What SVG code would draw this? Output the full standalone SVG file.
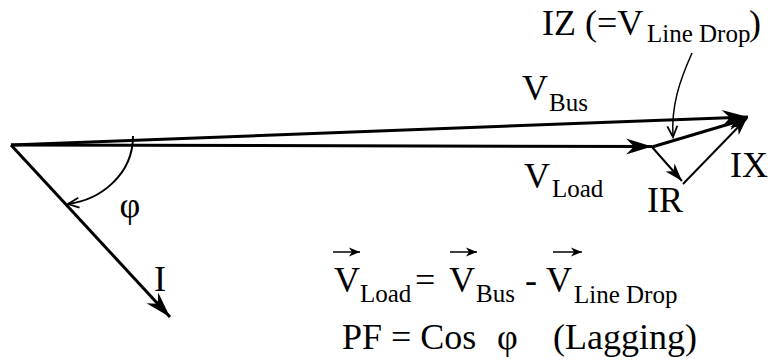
<svg xmlns="http://www.w3.org/2000/svg" width="771" height="362" viewBox="0 0 771 362" font-family="'Liberation Serif', 'Times New Roman', Times, 'DejaVu Serif', serif">
<style>
  text, tspan { font-family: "Liberation Serif", "Times New Roman", Times, "DejaVu Serif", serif; fill: #000; }
  .m { font-size: 36px; }
  .s { font-size: 25px; }
  .thick { stroke: #000; stroke-width: 3; fill: none; }
  .thin { stroke: #000; stroke-width: 2; fill: none; }
  .fine { stroke: #000; stroke-width: 1.5; fill: none; }
</style>
<defs>
  <marker id="ah" markerUnits="userSpaceOnUse" orient="auto" overflow="visible" markerWidth="1" markerHeight="1">
    <path d="M0,0 L-26,-8 L-18,0 L-26,8 Z" fill="#000"/>
  </marker>
  <marker id="ahm" markerUnits="userSpaceOnUse" orient="auto" overflow="visible" markerWidth="1" markerHeight="1">
    <path d="M0,0 L-18,-6 L-13,0 L-18,6 Z" fill="#000"/>
  </marker>
  <marker id="av" markerUnits="userSpaceOnUse" orient="auto" overflow="visible" markerWidth="1" markerHeight="1">
    <path d="M-11,-5 L0,0 L-11,5" fill="none" stroke="#000" stroke-width="1.8"/>
  </marker>
  <marker id="avs" markerUnits="userSpaceOnUse" orient="auto" overflow="visible" markerWidth="1" markerHeight="1">
    <path d="M0,0 L-11,-4.5 L-8,0 L-11,4.5 Z" fill="#000"/>
  </marker>
</defs>

<g id="connectors">
  <path id="v-bus" class="thick" d="M11,145 L748,117" marker-end="url(#ah)"/>
  <path id="v-load" class="thick" d="M11,145 L652,146.5" marker-end="url(#ah)"/>
  <path id="i-current" class="thick" d="M11,145 L170,317" marker-end="url(#ah)"/>
  <path id="iz" class="thick" d="M652,147 L746,119" marker-end="url(#ahm)"/>
  <path id="ir" class="thin" d="M652,147 L682,181" marker-end="url(#ahm)"/>
  <path id="ix" class="thin" d="M683,184 L747,118" marker-end="url(#ahm)"/>
  <path id="callout" class="fine" d="M692,53 C680,80 671,105 673,137" marker-end="url(#av)"/>
  <path id="phi-arc" class="thin" d="M133,136 C133,175 100,200 68,204" marker-end="url(#av)"/>
</g>

<g id="label-vbus"><text><tspan class="m" x="522" y="100">V</tspan><tspan class="s" x="549" y="111">Bus</tspan></text></g>
<g id="label-vload"><text><tspan class="m" x="524" y="188">V</tspan><tspan class="s" x="552" y="197">Load</tspan></text></g>
<g id="label-iz"><text><tspan class="m" x="542" y="35">IZ (=V</tspan><tspan class="s" x="647" y="42">Line Drop</tspan><tspan class="m" x="749" y="35">)</tspan></text></g>
<g id="label-ix"><text class="m" x="730" y="177">IX</text></g>
<g id="label-ir"><text class="m" x="647" y="212">IR</text></g>
<g id="label-i"><text class="m" x="154" y="291">I</text></g>
<g id="label-phi"><text class="m" x="130" y="217" text-anchor="middle">φ</text></g>

<g id="equation">
  <path class="fine" d="M333,252 L360,252" marker-end="url(#avs)"/>
  <path class="fine" d="M450,252 L477,252" marker-end="url(#avs)"/>
  <path class="fine" d="M553,252 L582,252" marker-end="url(#avs)"/>
  <text><tspan class="m" x="334" y="292">V</tspan><tspan class="s" x="360" y="302">Load</tspan><tspan class="m" x="415" y="292">=</tspan><tspan class="m" x="449" y="292">V</tspan><tspan class="s" x="476" y="302">Bus</tspan><tspan class="m" x="525" y="292">-</tspan><tspan class="m" x="546" y="292">V</tspan><tspan class="s" x="574" y="303">Line Drop</tspan></text>
  <text><tspan class="m" x="342" y="349">PF = Cos</tspan><tspan class="m" x="497" y="349">φ</tspan><tspan class="m" x="553" y="349">(Lagging)</tspan></text>
</g>
</svg>
